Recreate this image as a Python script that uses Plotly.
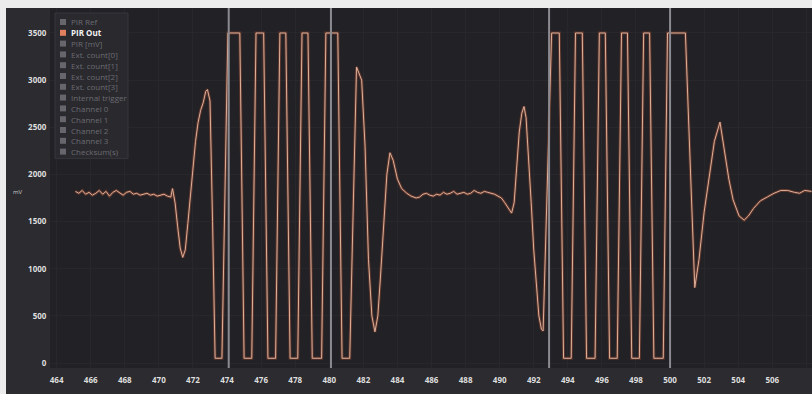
import plotly.graph_objects as go

# PIR output capture: sample time (s) and level (mV)
pir_time = [
    465.1, 465.3, 465.5, 465.7, 465.9, 466.1, 466.3, 466.5, 466.7, 466.9,
    467.1, 467.3, 467.5, 467.7, 467.9, 468.1, 468.3, 468.5, 468.7, 468.9,
    469.1, 469.3, 469.5, 469.7, 469.9, 470.1, 470.3, 470.5,
    470.7, 470.8, 470.95, 471.1, 471.25, 471.4, 471.55, 471.7, 471.85, 472.0,
    472.15, 472.3, 472.45, 472.6, 472.75, 472.85, 473.0, 473.15, 473.3,
    473.7, 474.05, 474.75, 475.0, 475.45, 475.7, 476.15, 476.4, 476.85,
    477.1, 477.45, 477.7, 478.15, 478.4, 478.75, 479.0, 479.55, 479.8, 480.5,
    480.75, 481.2, 481.6,
    481.9, 482.1, 482.3, 482.5, 482.68, 482.85, 483.0, 483.15, 483.38, 483.56,
    483.75, 484.0, 484.25, 484.55, 484.8, 485.1,
    485.3, 485.5, 485.7, 485.9, 486.1, 486.3, 486.5, 486.7, 486.9, 487.1,
    487.3, 487.5, 487.7, 487.9, 488.1, 488.3, 488.5, 488.7, 488.9, 489.1,
    489.3, 489.5, 489.7, 489.9, 490.1, 490.3,
    490.5, 490.7, 490.85, 491.0, 491.15, 491.3, 491.43, 491.55, 491.7, 491.85,
    492.0, 492.15, 492.3, 492.45, 492.55,
    493.05, 493.5, 493.75, 494.2, 494.45, 494.85, 495.1, 495.6, 495.85, 496.2,
    496.45, 496.9, 497.15, 497.5, 497.75, 498.2, 498.45, 498.8, 499.05, 499.6,
    499.85, 500.9, 501.45,
    501.7, 502.0, 502.3, 502.6, 502.93, 503.2, 503.45, 503.7, 504.05, 504.35,
    504.6, 504.9, 505.3, 505.7, 506.1, 506.5, 506.9, 507.3, 507.6, 507.9, 508.3,
]
pir_level = [
    1820, 1800, 1830, 1790, 1810, 1780, 1800, 1830, 1790, 1820,
    1770, 1810, 1830, 1800, 1780, 1810, 1820, 1790, 1800, 1780,
    1790, 1800, 1780, 1790, 1770, 1780, 1790, 1770,
    1760, 1850, 1700, 1450, 1220, 1120, 1200, 1480, 1800, 2100,
    2350, 2550, 2680, 2760, 2880, 2900, 2780, 1500, 50,
    50, 3500, 3500, 50, 50, 3500, 3500, 50, 50,
    3500, 3500, 50, 50, 3500, 3500, 50, 50, 3500, 3500,
    50, 50, 3140,
    3000, 2300, 1100, 500, 330, 500, 900, 1300, 2000, 2230,
    2150, 1950, 1850, 1800, 1770, 1750,
    1760, 1790, 1800, 1780, 1770, 1790, 1780, 1810, 1790, 1800,
    1820, 1790, 1800, 1810, 1790, 1800, 1830, 1810, 1800, 1820,
    1810, 1800, 1790, 1770, 1750, 1700,
    1640, 1590, 1700, 2100, 2450, 2650, 2720, 2600, 2200, 1700,
    1200, 800, 500, 360, 340,
    3500, 3500, 50, 50, 3500, 3500, 50, 50, 3500, 3500,
    50, 50, 3500, 3500, 50, 50, 3500, 3500, 50, 50,
    3500, 3500, 800,
    1100, 1600, 2000, 2350, 2555, 2250, 1950, 1730, 1560, 1515,
    1560, 1640, 1720, 1760, 1800, 1830, 1830, 1810, 1800, 1830, 1820,
]

# cursor markers placed on the time axis
cursor_times = [474.1, 480.1, 492.9, 500.0]

# axis ticks
x_ticks = list(range(464, 510, 2))
y_ticks = [0, 500, 1000, 1500, 2000, 2500, 3000, 3500]

# legend entries (only PIR Out is enabled)
legend_names = [
    "PIR Ref", "PIR Out", "PIR [mV]", "Ext. count[0]", "Ext. count[1]",
    "Ext. count[2]", "Ext. count[3]", "Internal trigger", "Channel 0",
    "Channel 1", "Channel 2", "Channel 3", "Checksum(s)",
]
legend_active = "PIR Out"

W, H = 812, 394
ML, MR, MT, MB = 50, 0, 8, 26
PW, PH = W - ML - MR, H - MT - MB


def px_x(px):
    return (px - ML) / PW


def px_y(py):
    return (H - MB - py) / PH


fig = go.Figure()

# soft reddish halo under the signal
fig.add_trace(go.Scatter(
    x=pir_time, y=pir_level, mode="lines",
    line=dict(color="rgba(150,72,48,0.5)", width=3),
    hoverinfo="skip", showlegend=False,
))
# signal core
fig.add_trace(go.Scatter(
    x=pir_time, y=pir_level, mode="lines", name="PIR Out",
    line=dict(color="#dcb09a", width=1),
    showlegend=False,
))

shapes = []

# cursor lines
for t in cursor_times:
    shapes.append(dict(
        type="line", xref="x", yref="paper", x0=t, x1=t, y0=0, y1=1,
        line=dict(color="#8a8a90", width=2), layer="above",
    ))

# light page edge above and to the left of the chart panel
shapes.append(dict(
    type="rect", xref="paper", yref="paper",
    x0=px_x(0), x1=1.0, y0=px_y(MT), y1=px_y(0),
    fillcolor="#ececec", line=dict(width=0), layer="above",
))
shapes.append(dict(
    type="rect", xref="paper", yref="paper",
    x0=px_x(0), x1=px_x(6), y0=px_y(H), y1=px_y(0),
    fillcolor="#ececec", line=dict(width=0), layer="above",
))

# legend panel
lg_left, lg_right, lg_top = 55, 128, 13
row_h = 10.8
first_row = 22
lg_bottom = first_row + row_h * (len(legend_names) - 1) + 7
shapes.append(dict(
    type="rect", xref="paper", yref="paper",
    x0=px_x(lg_left), x1=px_x(lg_right), y0=px_y(lg_bottom), y1=px_y(lg_top),
    fillcolor="rgba(42,42,48,0.85)", line=dict(color="#36363c", width=1),
    layer="above",
))

annotations = []
for i, name in enumerate(legend_names):
    cy = first_row + i * row_h
    active = name == legend_active
    shapes.append(dict(
        type="rect", xref="paper", yref="paper",
        x0=px_x(60), x1=px_x(66), y0=px_y(cy + 3), y1=px_y(cy - 3),
        fillcolor="#e0805f" if active else "#66666c",
        line=dict(width=0), layer="above",
    ))
    annotations.append(dict(
        xref="paper", yref="paper", x=px_x(69), y=px_y(cy),
        text=name, showarrow=False, xanchor="left", yanchor="middle",
        font=dict(family="Open Sans", size=8,
                  color="#f2f2f2" if active else "#6c6c72",
                  weight="bold" if active else "normal"),
    ))

# small unit label beside the value axis
annotations.append(dict(
    xref="paper", yref="paper", x=px_x(18), y=px_y(192),
    text="mV", showarrow=False, xanchor="center", yanchor="middle",
    font=dict(family="Open Sans", size=6, color="#cfcfcf"),
))

tick_font = dict(family="Open Sans", size=8, color="#dedede", weight="bold")

fig.update_layout(
    width=W, height=H,
    margin=dict(l=ML, r=MR, t=MT, b=MB, pad=0),
    paper_bgcolor="#2b2b30",
    plot_bgcolor="#212126",
    shapes=shapes,
    annotations=annotations,
    showlegend=False,
    xaxis=dict(
        range=[463.61, 508.33], tickmode="array", tickvals=x_ticks,
        ticktext=[str(v) for v in x_ticks],
        showgrid=True, gridcolor="#27272c", gridwidth=1,
        zeroline=False, showline=False,
        ticks="outside", ticklen=4, tickcolor="rgba(0,0,0,0)",
        tickfont=tick_font,
    ),
    yaxis=dict(
        range=[-53, 3765], tickmode="array", tickvals=y_ticks,
        ticktext=[str(v) for v in y_ticks],
        showgrid=True, gridcolor="#27272c", gridwidth=1,
        zeroline=False, showline=False,
        ticks="outside", ticklen=1, tickcolor="rgba(0,0,0,0)",
        tickfont=tick_font,
    ),
)

fig.write_html("out.html")
